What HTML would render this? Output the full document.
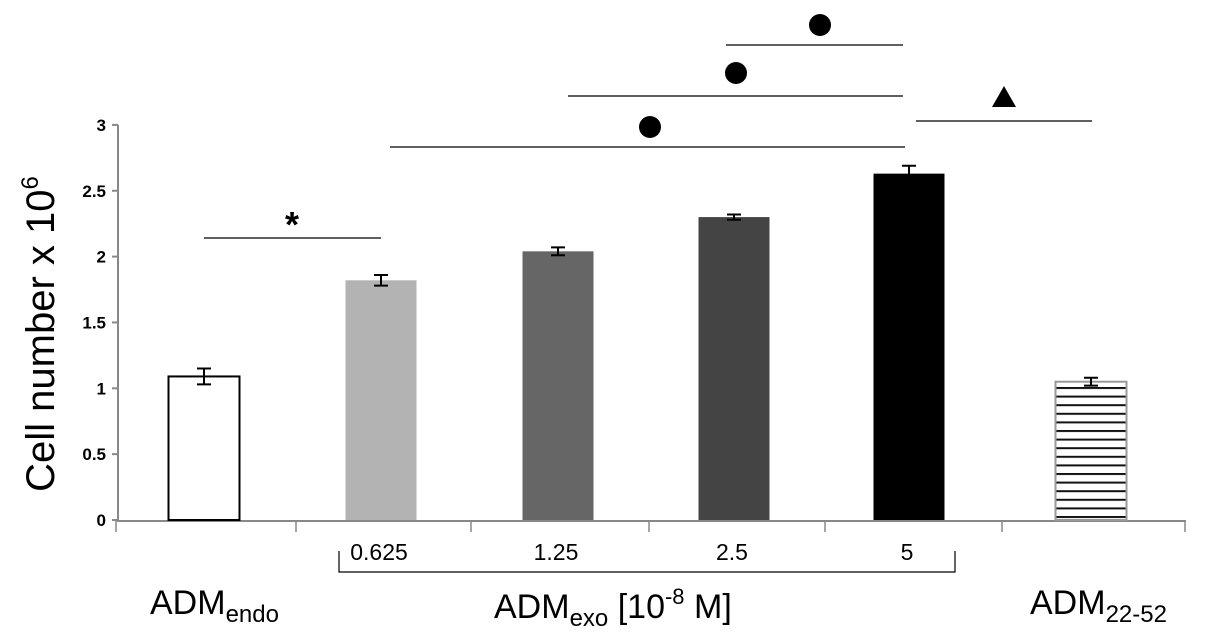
<!DOCTYPE html>
<html><head><meta charset="utf-8"><style>
body{margin:0;background:#fff;width:1205px;height:637px;overflow:hidden}
svg text{font-family:"Liberation Sans",sans-serif}
</style></head><body>
<svg id="chart" width="1205" height="637" viewBox="0 0 1205 637">
<defs><pattern id="hatch" width="10" height="8.6" patternUnits="userSpaceOnUse"><rect width="10" height="8.6" fill="#fff"/><rect y="0" width="10" height="2" fill="#111"/></pattern></defs>
<g id="g"></g>
</svg>
<script>
const categories=["ADMendo","0.625","1.25","2.5","5","ADM22-52"];
const values=[1.09,1.82,2.04,2.30,2.63,1.05];
const errors=[0.06,0.04,0.03,0.02,0.06,0.03];
const yTicks=[0,0.5,1,1.5,2,2.5,3];
const yTickLabels=["0","0.5","1","1.5","2","2.5","3"];
const fills=["#fff","#b3b3b3","#666","#444","#000","url(#hatch)"];
const ns="http://www.w3.org/2000/svg";
const g=document.getElementById('g');
const y0=520,pxPerUnit=131.7;
function yScale(v){return y0-v*pxPerUnit;}
const centers=[204,381,558,734,909,1091];
function xScale(i){return centers[i];}
const bw=71;
function mk(tag,attrs,parent){const e=document.createElementNS(ns,tag);for(const k in attrs)e.setAttribute(k,attrs[k]);(parent||g).appendChild(e);return e;}
let ax=mk('line',{x1:118,y1:yScale(3),x2:118,y2:y0,stroke:'#888','stroke-width':2});


yTicks.forEach((t,i)=>{
 let l=mk('line',{x1:112,x2:118,y1:yScale(t),y2:yScale(t),stroke:'#888','stroke-width':2});
 
 
 let tx=mk('text',{x:106,y:yScale(t)+6,'text-anchor':'end','font-size':17,'font-weight':'bold'});
 tx.textContent=yTickLabels[i];
 
 
});
let xa=mk('line',{x1:117,y1:y0+1,x2:1186,y2:y0+1,stroke:'#888','stroke-width':2});


[116,296,471,649,825,1002,1185].forEach(x=>{
 let l=mk('line',{x1:x,x2:x,y1:y0,y2:y0+12,stroke:'#888','stroke-width':1.5});
 
 
});
values.forEach((v,i)=>{
 const cx=xScale(i);
 let r=mk('rect',{x:cx-bw/2,y:yScale(v),width:bw,height:y0-yScale(v),fill:fills[i],stroke:(i==0?'#000':i==5?'#999':'none'),'stroke-width':2});
 
 
 const e=errors[i],t=yScale(v+e),b=yScale(v-e);
 let eb=mk('path',{d:`M${cx-7},${t}H${cx+7}M${cx},${t}V${b}M${cx-7},${b}H${cx+7}`,stroke:'#000','stroke-width':2,fill:'none'});
 
 
});
["0.625","1.25","2.5","5"].forEach((s,i)=>{
 let t=mk('text',{x:xScale(i+1)-2,y:560,'text-anchor':'middle','font-size':23});
 t.textContent=s;
 
 
});
let br=mk('path',{d:'M339,551V572H955V551',stroke:'#000','stroke-width':1.2,fill:'none'});


const sig=[[204,381,238,'*'],[390,905,147,'●'],[568,903,96,'●'],[726,903,45,'●'],[916,1092,121,'▲']];
sig.forEach(s=>{
 let l=mk('line',{x1:s[0],x2:s[1],y1:s[2],y2:s[2],stroke:'#000','stroke-width':1.2});
 
 
});
</script>
<svg style="position:absolute;left:0;top:0" width="1205" height="637">
<text x="292" y="237" font-size="36" font-weight="bold" text-anchor="middle" font-family="Liberation Sans">*</text>
<circle cx="650" cy="127" r="11" fill="#000"/>
<circle cx="736" cy="73" r="11" fill="#000"/>
<circle cx="820" cy="25" r="11" fill="#000"/>
<polygon points="1004,86 992,107 1016,107" fill="#000"/>
<text transform="translate(54,334) rotate(-90)" text-anchor="middle" font-size="40" font-family="Liberation Sans">Cell number x 10<tspan dy="-16" font-size="24">6</tspan></text>
<text x="150" y="614" font-size="34" font-family="Liberation Sans">ADM<tspan dy="8" font-size="24">endo</tspan></text>
<text x="494" y="618" font-size="34" font-family="Liberation Sans">ADM<tspan dy="8" font-size="24">exo</tspan><tspan dy="-8"> [10</tspan><tspan dy="-14" font-size="22">-8</tspan><tspan dy="14"> M]</tspan></text>
<text x="1030" y="614" font-size="34" font-family="Liberation Sans">ADM<tspan dy="8" font-size="24">22-52</tspan></text>
</svg>
<style>svg#chart{position:absolute;left:0;top:0}</style>
</body></html>
